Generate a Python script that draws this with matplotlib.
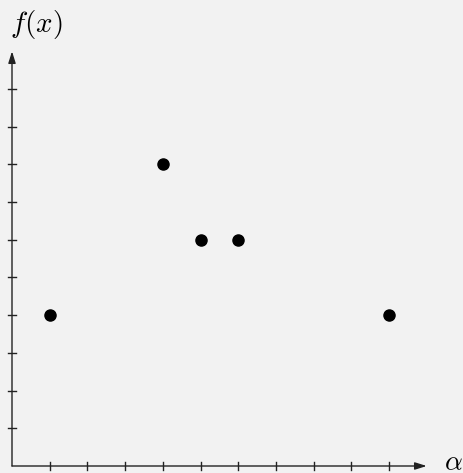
import numpy as np
import matplotlib
matplotlib.use("Agg")
from matplotlib import pyplot as plt

plt.rcParams['mathtext.fontset'] = 'cm'

# sample points of f
xs = [1, 4, 5, 6, 10]
ys = [4, 8, 6, 6, 4]
xticks = list(range(1, 11))
yticks = list(range(1, 11))

bg = '#f2f2f2'
unit = 37.7  # pixels per unit
ox, oy = 12, 466  # origin in pixels

fig = plt.figure(figsize=(4.63, 4.73), dpi=100, facecolor=bg)
ax = fig.add_axes([0, 0, 1, 1])
ax.set_facecolor(bg)
ax.set_xlim(-ox / unit, (463 - ox) / unit)
ax.set_ylim(-(473 - oy) / unit, oy / unit)
ax.axis('off')

# axes with arrow heads
arrowprops = dict(arrowstyle='-|>,head_length=0.7,head_width=0.22', color='#222222',
                  lw=1.0, shrinkA=0, shrinkB=0)
ax.annotate('', xy=(11.0, 0), xytext=(0, 0), arrowprops=arrowprops)
ax.annotate('', xy=(0, 11.0), xytext=(0, 0), arrowprops=arrowprops)

# tick marks crossing the axes
t = 0.1
for x in xticks:
    ax.plot([x, x], [-t, t], color='#222222', lw=1.0)
for y in yticks:
    ax.plot([-t, t], [y, y], color='#222222', lw=1.0)

ax.plot(xs, ys, 'o', color='black', ms=8, zorder=3)

ax.text(11.7, 0.1, r'$\alpha$', fontsize=20, ha='center', va='center')
ax.text(-0.06, 11.7, r'$f(x)$', fontsize=21, ha='left', va='center')

fig.savefig('out.png', dpi=100, facecolor=bg)
